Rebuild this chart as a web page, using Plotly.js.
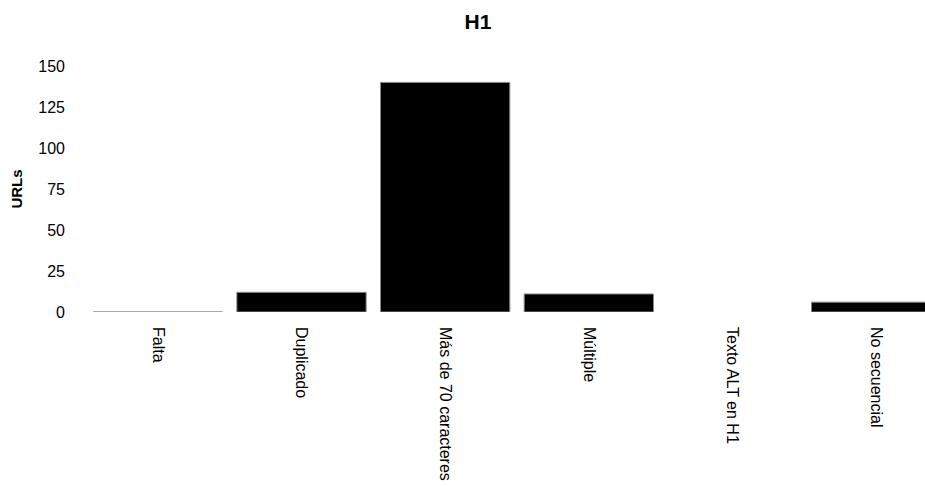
<!DOCTYPE html>
<html>
<head>
<meta charset="utf-8">
<script src="https://cdn.plot.ly/plotly-3.0.1.min.js"></script>
<style>
html, body { margin: 0; padding: 0; overflow: hidden; background: #fff; }
#chart { width: 956px; height: 520px; }
</style>
</head>
<body>
<div id="chart"></div>
<script>
const categories = ["Falta", "Duplicado", "Más de 70 caracteres", "Múltiple", "Texto ALT en H1", "No secuencial"];
const urls = [0, 12, 140, 11, null, 6];
const yTickVals = [0, 25, 50, 75, 100, 125, 150];

const W = 956, H = 520;
const FONT = "'Liberation Sans', Arial, sans-serif";
const trace = {
  type: "bar",
  x: categories,
  y: urls,
  marker: { color: "#000000", line: { color: "#8a8a8a", width: 1 } },
  hoverinfo: "x+y"
};
const layout = {
  width: W,
  height: H,
  margin: { l: 86, r: 8, t: 66, b: H - 312, pad: 0 },
  paper_bgcolor: "#ffffff",
  plot_bgcolor: "#ffffff",
  font: { family: FONT, size: 16, color: "#000000" },
  title: {
    text: "<b>H1</b>",
    font: { family: FONT, size: 21, color: "#000000" },
    x: 0.5, xanchor: "center", xref: "container",
    y: 1 - 21.5 / H, yanchor: "middle", yref: "container"
  },
  bargap: 0.1,
  showlegend: false,
  xaxis: {
    type: "category",
    tickangle: 90,
    showgrid: false,
    zeroline: false,
    showline: false,
    ticks: "",
    ticklabelstandoff: 14,
    automargin: false,
    tickfont: { family: FONT, size: 16, color: "#000000" }
  },
  yaxis: {
    range: [0, 150],
    tickvals: yTickVals,
    showgrid: false,
    zeroline: false,
    showline: false,
    ticks: "",
    ticklabelstandoff: 20,
    automargin: true,
    tickfont: { family: FONT, size: 16, color: "#000000" },
    title: { text: "<b>URLs</b>", standoff: 12, font: { family: FONT, size: 15, color: "#000000" } }
  }
};
Plotly.newPlot("chart", [trace], layout, { displayModeBar: false, staticPlot: true });
</script>
</body>
</html>
